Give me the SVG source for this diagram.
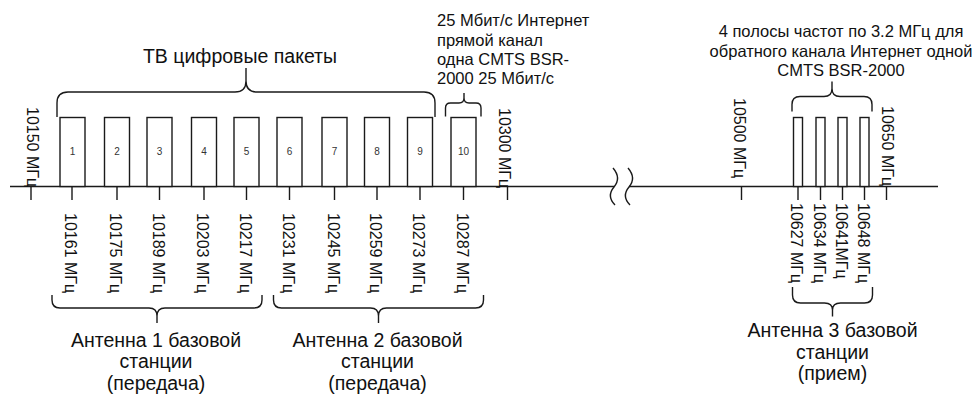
<svg xmlns="http://www.w3.org/2000/svg" width="976" height="394" viewBox="0 0 976 394">
<style>
.ln{fill:none;stroke:#1a1a1a;stroke-width:1.4}
.bx{fill:#fff;stroke:#1a1a1a;stroke-width:1.4}
.num{font-family:"Liberation Sans",Arial,sans-serif;font-size:10px;fill:#333;text-anchor:middle}
.f{font-family:"Liberation Sans",Arial,sans-serif;font-size:16px;fill:#111}
.a{font-family:"Liberation Sans",Arial,sans-serif;font-size:16.5px;fill:#111}
.t{font-family:"Liberation Sans",Arial,sans-serif;font-size:19.5px;fill:#111;text-anchor:middle}
.c{text-anchor:middle}
</style>
<rect width="976" height="394" fill="#fff"/>
<g id="connectors">
<path class="ln" d="M10,186.5H614M629,186.5H938"/>
<path class="ln" d="M613,168 C619,175 619,181 614,187 C609,193 609,199 615,205"/>
<path class="ln" d="M628,168 C634,175 634,181 629,187 C624,193 624,199 630,205"/>
<path class="ln" d="M31,186.5V200M72,186.5V200M117,186.5V200M159.5,186.5V200M204,186.5V200M246.5,186.5V200M289.5,186.5V200M334.5,186.5V200M377,186.5V200M420,186.5V200M463.5,186.5V200M507.5,186.5V200M741.5,186.5V200M798,186.5V200M820.5,186.5V200M842.5,186.5V200M864.5,186.5V200M886.5,186.5V200"/>
</g>
<g id="band1"><rect class="bx" x="60" y="117.5" width="25" height="69"/><text class="num" x="72.5" y="155">1</text></g>
<g id="band2"><rect class="bx" x="104.5" y="117.5" width="25" height="69"/><text class="num" x="117" y="155">2</text></g>
<g id="band3"><rect class="bx" x="147" y="117.5" width="25" height="69"/><text class="num" x="159.5" y="155">3</text></g>
<g id="band4"><rect class="bx" x="191.5" y="117.5" width="25" height="69"/><text class="num" x="204" y="155">4</text></g>
<g id="band5"><rect class="bx" x="234" y="117.5" width="25" height="69"/><text class="num" x="246.5" y="155">5</text></g>
<g id="band6"><rect class="bx" x="277" y="117.5" width="25" height="69"/><text class="num" x="289.5" y="155">6</text></g>
<g id="band7"><rect class="bx" x="322" y="117.5" width="25" height="69"/><text class="num" x="334.5" y="155">7</text></g>
<g id="band8"><rect class="bx" x="364.5" y="117.5" width="25" height="69"/><text class="num" x="377" y="155">8</text></g>
<g id="band9"><rect class="bx" x="407.5" y="117.5" width="25" height="69"/><text class="num" x="420" y="155">9</text></g>
<g id="band10"><rect class="bx" x="451" y="117.5" width="25" height="69"/><text class="num" x="463.5" y="155">10</text></g>
<g id="up1"><rect class="bx" x="793.5" y="117.5" width="9" height="69"/></g>
<g id="up2"><rect class="bx" x="816" y="117.5" width="9" height="69"/></g>
<g id="up3"><rect class="bx" x="838" y="117.5" width="9" height="69"/></g>
<g id="up4"><rect class="bx" x="860" y="117.5" width="9" height="69"/></g>
<g id="braces">
<path class="ln" d="M57,117V103Q57,92 68,92H235Q246,92 246,81V68M246,81Q246,92 257,92H424Q435,92 435,103V117"/>
<path class="ln" d="M445.5,116.5V108Q445.5,103 450.5,103H459Q464,103 464,98V93M464,98Q464,103 469,103H476Q481,103 481,108V116.5"/>
<path class="ln" d="M792,111.5V104.5Q792,96.5 800,96.5H824Q832,96.5 832,88.5V81.5M832,88.5Q832,96.5 840,96.5H864Q872,96.5 872,104.5V111.5"/>
<path class="ln" d="M52,295V300Q52,308 60,308H149Q157,308 157,316V323M157,316Q157,308 165,308H254Q262,308 262,300V295"/>
<path class="ln" d="M273.5,295V300Q273.5,308 281.5,308H370.5Q378.5,308 378.5,316V323M378.5,316Q378.5,308 386.5,308H475.5Q483.5,308 483.5,300V295"/>
<path class="ln" d="M792.5,287V295Q792.5,303 800.5,303H824.5Q832.5,303 832.5,310V316.5M832.5,310Q832.5,303 840.5,303H864.5Q872.5,303 872.5,295V287"/>
</g>
<g id="freq-labels" class="f">
<text transform="translate(27,107) rotate(90)">10150 МГц</text>
<text transform="translate(499,108) rotate(90)">10300 МГц</text>
<text transform="translate(734,98) rotate(90)">10500 МГц</text>
<text transform="translate(881.5,106) rotate(90)">10650 МГц</text>
<text transform="translate(65,213) rotate(90)">10161 МГц</text>
<text transform="translate(110,213) rotate(90)">10175 МГц</text>
<text transform="translate(152.5,213) rotate(90)">10189 МГц</text>
<text transform="translate(197,213) rotate(90)">10203 МГц</text>
<text transform="translate(239.5,213) rotate(90)">10217 МГц</text>
<text transform="translate(282.5,213) rotate(90)">10231 МГц</text>
<text transform="translate(327.5,213) rotate(90)">10245 МГц</text>
<text transform="translate(370,213) rotate(90)">10259 МГц</text>
<text transform="translate(413,213) rotate(90)">10273 МГц</text>
<text transform="translate(456.5,213) rotate(90)">10287 МГц</text>
<text transform="translate(791,203) rotate(90)">10627 МГц</text>
<text transform="translate(813.5,203) rotate(90)">10634 МГц</text>
<text transform="translate(836,203) rotate(90)">10641МГц</text>
<text transform="translate(858,203) rotate(90)">10648 МГц</text>
</g>
<g id="tv-label"><text class="t" x="240" y="63">ТВ цифровые пакеты</text></g>
<g id="internet-down-label" class="a">
<text x="437" y="26">25 Мбит/с Интернет</text>
<text x="437" y="45.5">прямой канал</text>
<text x="437" y="65">одна CMTS BSR-</text>
<text x="437" y="84">2000 25 Мбит/с</text>
</g>
<g id="internet-up-label" class="a c">
<text x="841" y="37">4 полосы частот по 3.2 МГц для</text>
<text x="841" y="56.5">обратного канала Интернет одной</text>
<text x="841" y="76">CMTS BSR-2000</text>
</g>
<g id="antenna1" class="t">
<text x="156" y="346.5">Антенна 1 базовой</text>
<text x="156" y="368">станции</text>
<text x="156" y="389.5">(передача)</text>
</g>
<g id="antenna2" class="t">
<text x="377.5" y="346.5">Антенна 2 базовой</text>
<text x="377.5" y="368">станции</text>
<text x="377.5" y="389.5">(передача)</text>
</g>
<g id="antenna3" class="t">
<text x="832.5" y="336.5">Антенна 3 базовой</text>
<text x="832.5" y="358.5">станции</text>
<text x="832.5" y="380">(прием)</text>
</g>
</svg>
